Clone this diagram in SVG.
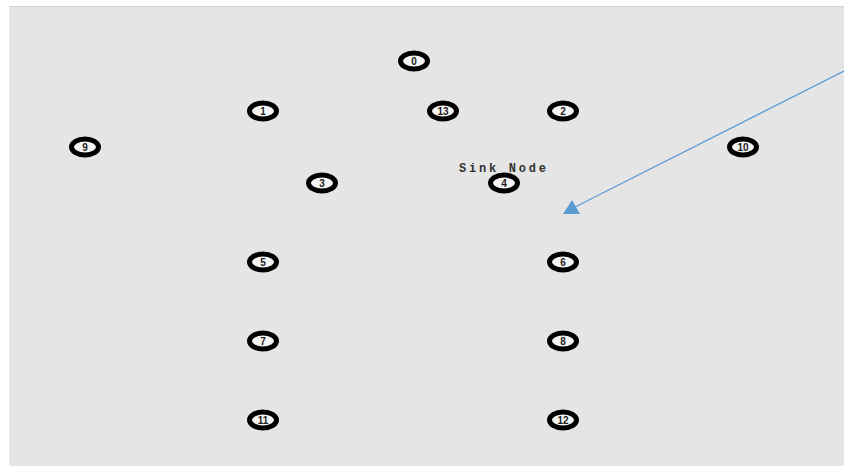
<svg xmlns="http://www.w3.org/2000/svg" width="844" height="466" viewBox="0 0 844 466">
<style>
.n ellipse{fill:#f4f4f4;stroke:#000;stroke-width:5}
.n text{font-family:"Liberation Sans",Arial,sans-serif;font-size:10px;font-weight:bold;fill:#222;text-anchor:middle;dominant-baseline:central}
.lbl{font-family:"Liberation Mono","DejaVu Sans Mono",monospace;font-size:12px;font-weight:bold;fill:#333}
</style>
<rect x="0" y="0" width="844" height="466" fill="#ffffff"/>
<rect x="9" y="6" width="835" height="460" fill="#e5e5e5"/>
<line x1="9" y1="6.5" x2="844" y2="6.5" stroke="#d6d6d6" stroke-width="1"/>
<g id="node0" class="n"><ellipse cx="414" cy="61" rx="13.5" ry="8"/><text x="414" y="61">0</text></g>
<g id="node1" class="n"><ellipse cx="263" cy="111" rx="13.5" ry="8"/><text x="263" y="111">1</text></g>
<g id="node13" class="n"><ellipse cx="443" cy="111" rx="13.5" ry="8"/><text x="443" y="111">13</text></g>
<g id="node2" class="n"><ellipse cx="563" cy="111" rx="13.5" ry="8"/><text x="563" y="111">2</text></g>
<g id="node9" class="n"><ellipse cx="85" cy="147" rx="13.5" ry="8"/><text x="85" y="147">9</text></g>
<g id="node10" class="n"><ellipse cx="743" cy="147" rx="13.5" ry="8"/><text x="743" y="147">10</text></g>
<g id="node3" class="n"><ellipse cx="322" cy="183" rx="13.5" ry="8"/><text x="322" y="183">3</text></g>
<g id="node4" class="n"><ellipse cx="504" cy="183" rx="13.5" ry="8"/><text x="504" y="183">4</text></g>
<text class="lbl" x="459" y="172" textLength="87" lengthAdjust="spacing">Sink Node</text>
<g id="node5" class="n"><ellipse cx="263" cy="262" rx="13.5" ry="8"/><text x="263" y="262">5</text></g>
<g id="node6" class="n"><ellipse cx="563" cy="262" rx="13.5" ry="8"/><text x="563" y="262">6</text></g>
<g id="node7" class="n"><ellipse cx="263" cy="341" rx="13.5" ry="8"/><text x="263" y="341">7</text></g>
<g id="node8" class="n"><ellipse cx="563" cy="341" rx="13.5" ry="8"/><text x="563" y="341">8</text></g>
<g id="node11" class="n"><ellipse cx="263" cy="420" rx="13.5" ry="8"/><text x="263" y="420">11</text></g>
<g id="node12" class="n"><ellipse cx="563" cy="420" rx="13.5" ry="8"/><text x="563" y="420">12</text></g>
<g id="connectors">
<line x1="844" y1="71" x2="575" y2="207" stroke="#5b9bd5" stroke-width="1.3"/>
<polygon points="563,214 572,200 580,214" fill="#5b9bd5"/>
</g>
</svg>
